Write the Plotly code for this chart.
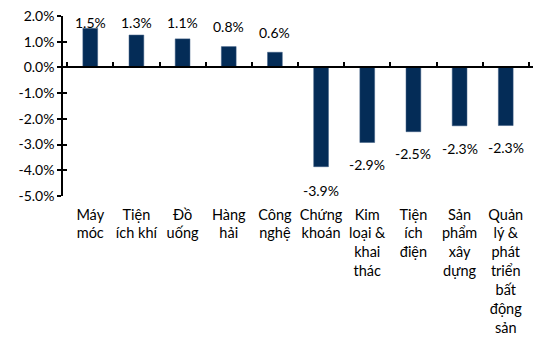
import plotly.graph_objects as go

categories = ["Máy<br>móc", "Tiện<br>ích khí", "Đồ<br>uống", "Hàng<br>hải", "Công<br>nghệ",
              "Chứng<br>khoán", "Kim<br>loại &<br>khai<br>thác", "Tiện<br>ích<br>điện",
              "Sản<br>phẩm<br>xây<br>dựng", "Quản<br>lý &<br>phát<br>triển<br>bất<br>động<br>sản"]
values = [1.52, 1.26, 1.11, 0.81, 0.59, -3.86, -2.92, -2.50, -2.27, -2.26]
tick_vals = [2, 1, 0, -1, -2, -3, -4, -5]
tick_text = [f"{v:.1f}%" for v in tick_vals]
labels = [f"{v:.1f}%" for v in values]

# label offsets from bar end (pixels), as placed in the original
label_gap = [6, 13, 16, 20, 20, 24, 22, 22, 23, 22]

FONT = "Lato"
fig = go.Figure()
fig.add_trace(go.Bar(
    x=categories, y=values,
    marker=dict(color="#042C57", line=dict(color="#3a5a80", width=0.5)),
    width=0.32, hoverinfo="skip",
))
for c, v, t, g in zip(categories, values, labels, label_gap):
    fig.add_annotation(x=c, y=v, text=t, showarrow=False,
                       yshift=g if v >= 0 else -g, yanchor="middle",
                       font=dict(family=FONT, size=14, color="black"))
fig.update_layout(
    width=536, height=340,
    margin=dict(l=63, r=3, t=16, b=144),
    plot_bgcolor="white", paper_bgcolor="white",
    showlegend=False,
    font=dict(family=FONT, size=14, color="black"),
    xaxis=dict(showline=False, ticks="", tickfont=dict(family=FONT, size=14.5),
               ticklabelstandoff=8),
    yaxis=dict(range=[-5, 2], tickvals=tick_vals, ticktext=tick_text,
               showgrid=False, zeroline=False, showline=True, linecolor="black",
               linewidth=1.5, ticks="outside", ticklen=4, tickwidth=1.5,
               tickcolor="black", tickfont=dict(family=FONT, size=14)),
    yaxis2=dict(range=[-5, 2], tickvals=tick_vals, overlaying="y",
                showticklabels=False, showgrid=False, zeroline=False,
                ticks="inside", ticklen=4, tickwidth=1.5, tickcolor="black",
                showline=False),
    xaxis2=dict(overlaying="x", anchor="free", position=5/7,
                categoryorder="array", categoryarray=categories,
                showticklabels=False, showgrid=False, showline=True,
                linecolor="black", linewidth=1.5, ticks="inside",
                tickson="boundaries", ticklen=5, tickwidth=1.5, tickcolor="black",
                matches="x"),
)
fig.add_trace(go.Scatter(x=categories, y=[0]*len(categories), xaxis="x2", yaxis="y2",
                         mode="markers", marker=dict(opacity=0), hoverinfo="skip"))
fig.write_html("out.html")
